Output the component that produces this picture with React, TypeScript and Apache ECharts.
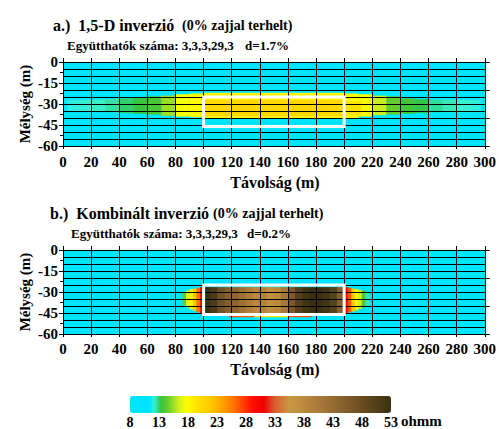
import React, { useEffect, useRef } from "react";
import * as echarts from "echarts";

// ---------- data ----------
const X_RANGE = [0, 300];
const DEPTH_RANGE = [-60, 0];
const BG_RES = 8;

// Panel a: 1,5-D inversion, anomalous band per 10 m column
const BAND_A_EDGES = [3, 10, 20, 30, 40, 50, 60, 70, 80, 90, 100, 110, 120, 130, 140, 150, 160, 170, 180, 190, 200, 210, 220, 230, 240, 250, 260, 270, 280, 290, 297];
const BAND_A_TOP = [-27, -27, -27, -26.5, -26, -25, -24.5, -24, -23, -22.5, -22, -22, -22, -22, -22, -22, -22, -22, -22, -22, -22.5, -23, -24, -24.5, -26, -26.5, -27, -27, -27, -27];
const BAND_A_BOT = [-35, -35, -35.5, -36, -36.5, -37, -37.5, -38.5, -39, -39.5, -40, -40, -40, -40, -40, -40, -40, -40, -40, -40, -40, -39, -38, -37.5, -37, -36.5, -36, -36, -36, -36];
const BAND_A_RES = [12.0, 12.1, 12.3, 12.6, 13.0, 13.3, 13.8, 15.5, 17.5, 18.0, 18.3, 18.4, 18.4, 18.5, 18.5, 18.5, 18.4, 18.4, 18.3, 18.2, 18.0, 17.5, 16.3, 14.5, 13.6, 13.2, 12.7, 12.4, 12.2, 12.0];
const CORE_A_EDGES = [100, 110, 120, 130, 140, 150, 160, 170, 180, 190, 200, 212];
const CORE_A_TOP = [-27, -27, -27, -27, -27, -27, -27, -27, -27, -27, -28];
const CORE_A_BOT = [-38.5, -38.5, -38.5, -38.5, -38.5, -38.5, -38.5, -38.5, -38.5, -38.5, -38];
const CORE_A_RES = [20.3, 20.5, 20.6, 20.6, 20.5, 20.5, 20.6, 20.7, 20.6, 20.4, 19.5];

// Panel b: combined inversion
const FLANK_L_B_EDGES = [85, 87.5, 90, 92.5, 95, 97.5, 100];
const FLANK_L_B_TOP = [-30, -29, -28, -27.5, -27, -26.5];
const FLANK_L_B_BOT = [-39.5, -41, -42.5, -43.5, -44.5, -45];
const FLANK_L_B_RES = [14.5, 17, 18.5, 22, 26, 30];
const CORE_B_EDGES = [100, 105, 110, 115, 120, 125, 130, 135, 140, 145, 150, 155, 160, 165, 170, 175, 180, 185, 190, 195, 200];
const CORE_B_TOP = [-26.5, -26.5, -26.5, -26.5, -26.5, -26.5, -26.5, -26.5, -26.5, -26.5, -26.5, -26.5, -26.5, -26.5, -26.5, -26.5, -26.5, -26.5, -26.5, -26.5];
const CORE_B_BOT = [-45, -45, -45, -45, -45, -45, -45, -45, -45, -45, -45, -45, -45, -45, -45, -45, -45, -45, -45, -45];
const CORE_B_RES = [53, 51, 47, 45, 44, 42, 40, 38, 39, 37, 38, 41, 46, 50, 52, 53, 53, 52, 50, 45];
const FLANK_R_B_EDGES = [200, 202.5, 205, 207.5, 210, 212.5, 215, 217.5];
const FLANK_R_B_TOP = [-26.5, -27, -27.5, -28, -28.5, -29, -30];
const FLANK_R_B_BOT = [-45, -44.5, -44, -43, -42, -41, -40];
const FLANK_R_B_RES = [30, 27, 22, 18.5, 16.5, 14, 12.5];
const STRIP_B_EDGES = [118, 136, 160, 177];
const STRIP_B_TOP = [-45, -45, -45];
const STRIP_B_BOT = [-48, -48, -48];
const STRIP_B_RES = [27, 19, 27];

// target body outline
const TARGET_X = [100, 200];
const TARGET_DEPTH = [-25, -46];

// colour scale
const SCALE_RANGE = [8, 53];
const SCALE_TICKS = [8, 13, 18, 23, 28, 33, 38, 43, 48, 53];
const COLOR_STOPS: [number, string][] = [
  [8, "#00E5FF"], [11.5, "#00E5FF"], [12.2, "#40F2D0"], [12.8, "#2ED88C"], [13.3, "#36C23A"], [14.5, "#62CC2E"],
  [16.5, "#D4F020"], [17.8, "#FFFF00"], [19.5, "#FFE200"], [22, "#FFC800"], [24, "#FFA000"],
  [26, "#FF7000"], [29, "#FF1000"], [31, "#F00000"], [33, "#D86030"], [35.5, "#C89840"],
  [40, "#B07C3C"], [46, "#7C5828"], [53, "#3A3010"],
];

// ---------- helpers ----------
const FONT = "Liberation Serif";

function cells(edges: number[], tops: number[], bots: number[], res: number[]) {
  return res.map((v, i) => [edges[i], edges[i + 1], tops[i], bots[i], v]);
}

function buildPalette(): string[] {
  const out: string[] = [];
  for (let k = 0; k <= 180; k++) {
    const v = 8 + k * 0.25;
    let j = 0;
    while (j < COLOR_STOPS.length - 2 && v > COLOR_STOPS[j + 1][0]) j++;
    const [v0, c0] = COLOR_STOPS[j];
    const [v1, c1] = COLOR_STOPS[j + 1];
    const t = Math.min(1, Math.max(0, (v - v0) / (v1 - v0)));
    out.push(echarts.color.lerp(t, [c0, c1]) as string);
  }
  return out;
}

const renderCell = (params: any, api: any) => {
  const p0 = api.coord([api.value(0), api.value(2)]);
  const p1 = api.coord([api.value(1), api.value(3)]);
  return {
    type: "rect",
    shape: {
      x: Math.min(p0[0], p1[0]),
      y: Math.min(p0[1], p1[1]),
      width: Math.abs(p1[0] - p0[0]) + 0.3,
      height: Math.abs(p1[1] - p0[1]),
    },
    style: { fill: api.visual("color") },
  };
};

const renderOutline = (params: any, api: any) => {
  const p0 = api.coord([api.value(0), api.value(2)]);
  const p1 = api.coord([api.value(1), api.value(3)]);
  return {
    type: "rect",
    shape: {
      x: Math.min(p0[0], p1[0]),
      y: Math.min(p0[1], p1[1]),
      width: Math.abs(p1[0] - p0[0]),
      height: Math.abs(p1[1] - p0[1]),
    },
    style: { fill: "none", stroke: "#ffffff", lineWidth: 3 },
  };
};

function panelAxes(g: number, labelMargin: number) {
  const black = { color: "#000", width: 1 };
  const xAxes = [
    {
      gridIndex: g, type: "value", min: X_RANGE[0], max: X_RANGE[1], interval: 20, position: "bottom", z: 10,
      axisLine: { show: true, onZero: false, lineStyle: black },
      axisTick: { show: true, length: 3, lineStyle: black },
      axisLabel: { margin: labelMargin, color: "#000", fontFamily: FONT, fontWeight: "bold", fontSize: 15 },
      splitLine: { show: true, lineStyle: black },
    },
    {
      gridIndex: g, type: "value", min: X_RANGE[0], max: X_RANGE[1], interval: 20, position: "top", z: 10,
      axisLine: { show: true, onZero: false, lineStyle: black },
      axisTick: { show: true, length: 4, lineStyle: black },
      axisLabel: { show: false },
      splitLine: { show: false },
    },
  ];
  const yAxes = [
    {
      gridIndex: g, type: "value", min: DEPTH_RANGE[0], max: DEPTH_RANGE[1], interval: 15, position: "left", z: 10,
      axisLine: { show: true, onZero: false, lineStyle: black },
      axisTick: { show: true, length: 4, lineStyle: black },
      minorTick: { show: true, splitNumber: 2, length: 3, lineStyle: black },
      axisLabel: { margin: 5, color: "#000", fontFamily: FONT, fontWeight: "bold", fontSize: 15 },
      splitLine: { show: false },
    },
    {
      gridIndex: g, type: "value", min: DEPTH_RANGE[0], max: DEPTH_RANGE[1], interval: 20, position: "right", z: 10,
      axisLine: { show: true, onZero: false, lineStyle: black },
      axisTick: { show: true, length: 5, lineStyle: black },
      axisLabel: { show: false },
      splitLine: { show: false },
    },
    {
      gridIndex: g, type: "value", min: DEPTH_RANGE[0], max: DEPTH_RANGE[1], interval: 5, position: "left", z: 10,
      axisLine: { show: false },
      axisTick: { show: false },
      axisLabel: { show: false },
      splitLine: { show: true, lineStyle: black },
    },
  ];
  return { xAxes, yAxes };
}

function txt(x: number, y: number, text: string, size: number, align = "left", rotation = 0) {
  return {
    type: "text", x, y, rotation, silent: true,
    style: {
      text, fill: "#000", font: `bold ${size}px ${FONT}`, align, verticalAlign: "middle",
    },
  };
}

export default function App() {
  const ref = useRef<HTMLDivElement>(null);
  useEffect(() => {
    if (!ref.current) return;
    const chart = echarts.init(ref.current, undefined, { renderer: "svg" });
    const a = panelAxes(0, 8);
    const b = panelAxes(1, 7);

    const dataA = [
      [X_RANGE[0], X_RANGE[1], DEPTH_RANGE[1], DEPTH_RANGE[0], BG_RES],
      ...cells(BAND_A_EDGES, BAND_A_TOP, BAND_A_BOT, BAND_A_RES),
      ...cells(CORE_A_EDGES, CORE_A_TOP, CORE_A_BOT, CORE_A_RES),
    ];
    const dataB = [
      [X_RANGE[0], X_RANGE[1], DEPTH_RANGE[1], DEPTH_RANGE[0], BG_RES],
      ...cells(FLANK_L_B_EDGES, FLANK_L_B_TOP, FLANK_L_B_BOT, FLANK_L_B_RES),
      ...cells(CORE_B_EDGES, CORE_B_TOP, CORE_B_BOT, CORE_B_RES),
      ...cells(FLANK_R_B_EDGES, FLANK_R_B_TOP, FLANK_R_B_BOT, FLANK_R_B_RES),
      ...cells(STRIP_B_EDGES, STRIP_B_TOP, STRIP_B_BOT, STRIP_B_RES),
    ];
    const target = [[TARGET_X[0], TARGET_X[1], TARGET_DEPTH[0], TARGET_DEPTH[1]]];

    const option: any = {
      animation: false,
      backgroundColor: "#ffffff",
      grid: [
        { left: 63, top: 62, width: 424, height: 84 },
        { left: 63, top: 250, width: 424, height: 84 },
        { left: 130, top: 396, width: 261, height: 17 },
      ],
      xAxis: [
        ...a.xAxes,
        ...b.xAxes,
        {
          gridIndex: 2, type: "value", min: SCALE_RANGE[0], max: SCALE_RANGE[1], interval: 5,
          axisLine: { show: false }, axisTick: { show: false }, splitLine: { show: false },
          axisLabel: {
            margin: 2, color: "#000", fontFamily: FONT, fontWeight: "bold", fontSize: 14,
            customValues: SCALE_TICKS,
          },
        },
      ],
      yAxis: [
        ...a.yAxes,
        ...b.yAxes,
        { gridIndex: 2, type: "value", min: 0, max: 1, show: false },
      ],
      visualMap: {
        type: "continuous",
        min: SCALE_RANGE[0],
        max: SCALE_RANGE[1],
        dimension: 4,
        seriesIndex: [0, 2],
        orient: "horizontal",
        left: 130,
        top: 396,
        itemWidth: 17,
        itemHeight: 261,
        padding: 0,
        calculable: false,
        hoverLink: false,
        inRange: { color: buildPalette() },
      },
      series: [
        {
          type: "custom", xAxisIndex: 0, yAxisIndex: 0, renderItem: renderCell, data: dataA,
          encode: { x: [0, 1], y: [2, 3] }, silent: true, z: 2,
        },
        {
          type: "custom", xAxisIndex: 0, yAxisIndex: 0, renderItem: renderOutline, data: target,
          encode: { x: [0, 1], y: [2, 3] }, silent: true, z: 20,
        },
        {
          type: "custom", xAxisIndex: 2, yAxisIndex: 3, renderItem: renderCell, data: dataB,
          encode: { x: [0, 1], y: [2, 3] }, silent: true, z: 2,
        },
        {
          type: "custom", xAxisIndex: 2, yAxisIndex: 3, renderItem: renderOutline, data: target,
          encode: { x: [0, 1], y: [2, 3] }, silent: true, z: 20,
        },
      ],
      graphic: [
        txt(53, 25, "a.)  1,5-D inverzió", 16),
        txt(182, 25, "(0% zajjal terhelt)", 14),
        txt(67, 45, "Együtthatók száma: 3,3,3,29,3", 13),
        txt(245, 45, "d=1.7%", 13),
        txt(25, 104, "Mélység (m)", 15, "center", Math.PI / 2),
        txt(275, 182, "Távolság (m)", 16, "center"),
        txt(50, 213, "b.)  Kombinált inverzió", 16),
        txt(213, 213, "(0% zajjal terhelt)", 14),
        txt(71, 233, "Együtthatók száma: 3,3,3,29,3", 13),
        txt(247, 233, "d=0.2%", 13),
        txt(25, 292, "Mélység (m)", 15, "center", Math.PI / 2),
        txt(275, 369, "Távolság (m)", 16, "center"),
        txt(401, 421, "ohmm", 15),
      ],
    };
    chart.setOption(option);
    return () => chart.dispose();
  }, []);
  return (
    <div
      ref={ref}
      style={{ position: "fixed", left: 0, top: 0, width: 499, height: 429, background: "#fff" }}
    />
  );
}
